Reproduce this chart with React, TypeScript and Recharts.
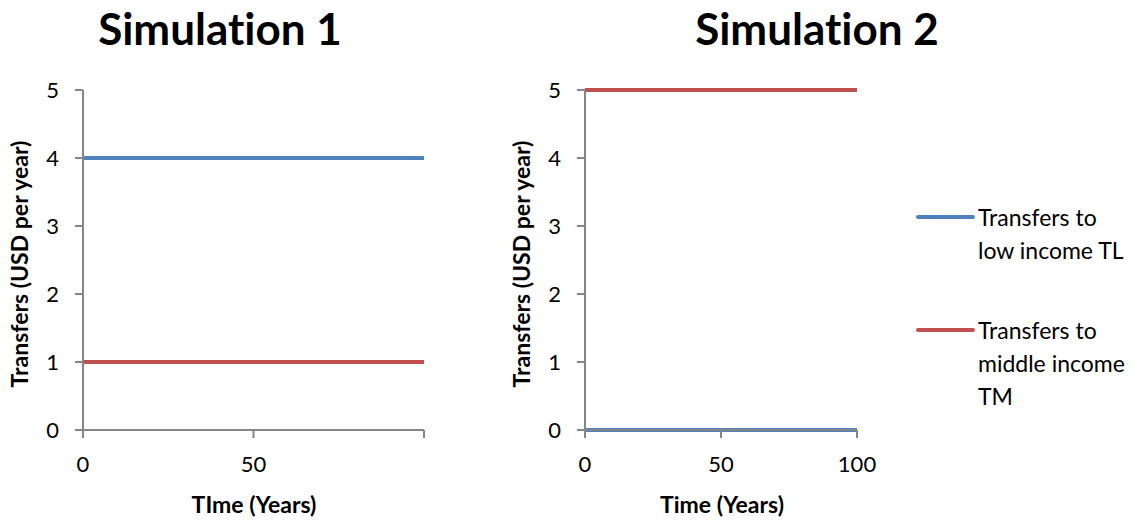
import React from 'react';
import { LineChart, Line, XAxis, YAxis } from 'recharts';

const time = [0, 100];
const sim1Low = [4, 4];
const sim1Middle = [1, 1];
const sim2Low = [0, 0];
const sim2Middle = [5, 5];
const yTicks = [0, 1, 2, 3, 4, 5];
const xTicks = [0, 50, 100];
const sim1XTickLabels = ['0', '50', ''];
const sim2XTickLabels = ['0', '50', '100'];
const titles = ['Simulation 1', 'Simulation 2'];
const xLabels = ['TIme (Years)', 'Time (Years)'];
const yLabel = 'Transfers (USD per year)';
const legendLines = [
  ['Transfers to', 'low income TL'],
  ['Transfers to', 'middle income', 'TM'],
];

const BLUE = '#4F81BD';
const RED = '#C0504D';
const AXIS = '#868686';
const FONT = 'Lato, "Open Sans", sans-serif';
const NOLIG = { fontVariantLigatures: 'none' as const, fontFeatureSettings: '"liga" 0, "clig" 0, "dlig" 0' };

const build = (low: number[], mid: number[]) =>
  time.map((t, i) => ({ t, low: low[i], mid: mid[i] }));

const data1 = build(sim1Low, sim1Middle);
const data2 = build(sim2Low, sim2Middle);

const tickStyle = { fontSize: 22, fill: '#000', fontFamily: FONT };

function Sim({ data, labels, width, marginLeft, marginRight }: any) {
  return (
    <LineChart
      width={width}
      height={520}
      data={data}
      margin={{ top: 90, right: marginRight, bottom: 0, left: marginLeft }}
    >
      <XAxis
        dataKey="t"
        type="number"
        domain={[0, 100]}
        ticks={xTicks}
        tickFormatter={(v: number) => labels[xTicks.indexOf(v)]}
        height={90}
        tickSize={8}
        tickMargin={18}
        stroke={AXIS}
        strokeWidth={2}
        tick={tickStyle}
        interval={0}
      />
      <YAxis
        type="number"
        domain={[0, 5]}
        ticks={yTicks}
        width={40}
        tickSize={8}
        tickMargin={16}
        stroke={AXIS}
        strokeWidth={2}
        tick={tickStyle}
        interval={0}
      />
      <Line dataKey="mid" stroke={RED} strokeWidth={4} dot={false} isAnimationActive={false} />
      <Line dataKey="low" stroke={BLUE} strokeWidth={4} dot={false} isAnimationActive={false} />
    </LineChart>
  );
}

export default function App() {
  return (
    <div style={{ position: 'absolute', left: 0, top: 0, width: 1142, height: 520, background: '#fff', fontFamily: FONT }}>
      <div style={{ position: 'absolute', left: 0, top: 0 }}>
        <Sim data={data1} labels={sim1XTickLabels} width={480} marginLeft={43} marginRight={56} />
      </div>
      <div style={{ position: 'absolute', left: 500, top: 0 }}>
        <Sim data={data2} labels={sim2XTickLabels} width={400} marginLeft={45} marginRight={43} />
      </div>
      <svg width={1142} height={520} style={{ position: 'absolute', left: 0, top: 0, pointerEvents: 'none', ...NOLIG }}>
        <g fontFamily={FONT} fill="#000">
          <text x={220} y={45} textAnchor="middle" fontSize={44} fontWeight="bold" style={NOLIG}>{titles[0]}</text>
          <text x={817} y={45} textAnchor="middle" fontSize={44} fontWeight="bold" style={NOLIG}>{titles[1]}</text>
          <text x={254} y={513} textAnchor="middle" fontSize={23} fontWeight="bold">{xLabels[0]}</text>
          <text x={722} y={513} textAnchor="middle" fontSize={23} fontWeight="bold">{xLabels[1]}</text>
          <text transform="translate(28,264) rotate(-90)" textAnchor="middle" fontSize={23} fontWeight="bold">{yLabel}</text>
          <text transform="translate(530,264) rotate(-90)" textAnchor="middle" fontSize={23} fontWeight="bold">{yLabel}</text>
          <line x1={918} x2={973} y1={217} y2={217} stroke={BLUE} strokeWidth={4} strokeLinecap="round" />
          <line x1={918} x2={973} y1={330} y2={330} stroke={RED} strokeWidth={4} strokeLinecap="round" />
          {legendLines[0].map((s, i) => (
            <text key={'a' + i} x={978} y={226 + i * 33} fontSize={23}>{s}</text>
          ))}
          {legendLines[1].map((s, i) => (
            <text key={'b' + i} x={978} y={339 + i * 33} fontSize={23}>{s}</text>
          ))}
        </g>
      </svg>
    </div>
  );
}
